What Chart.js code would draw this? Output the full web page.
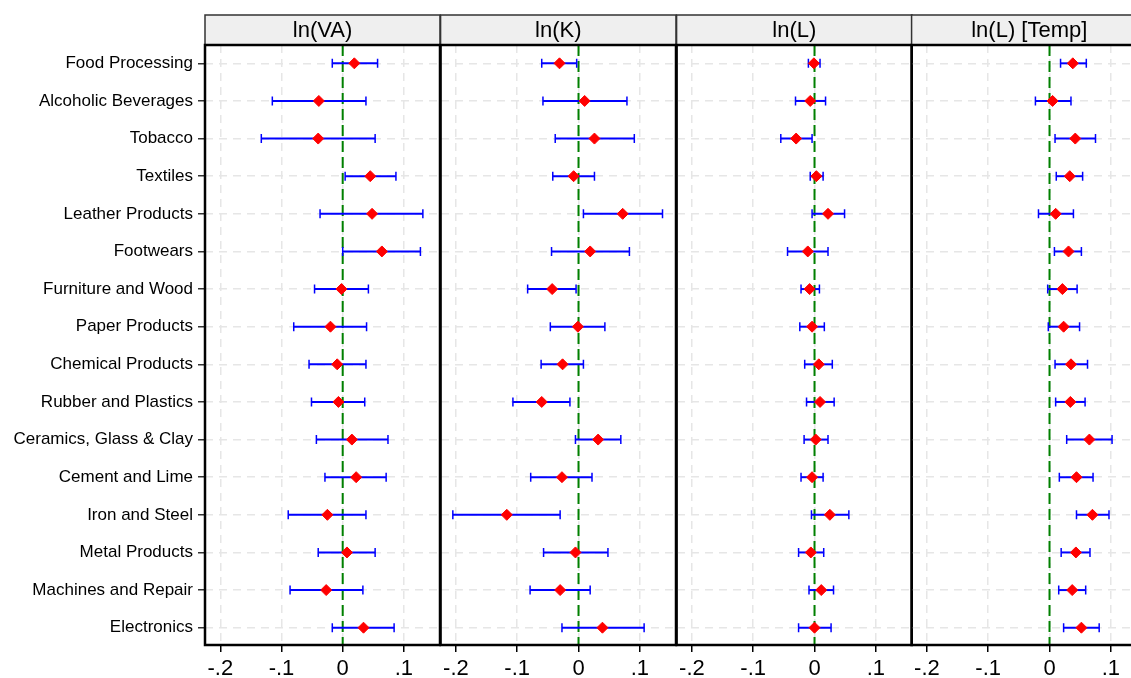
<!DOCTYPE html>
<html>
<head>
<meta charset="utf-8">
<script src="https://cdn.jsdelivr.net/npm/chart.js@4.4.0/dist/chart.umd.min.js"></script>
<style>
  html, body { margin: 0; padding: 0; background: #fff; overflow: hidden; }
  #wrap { position: relative; width: 1131px; height: 678px; overflow: hidden; }
  #wrap canvas { position: absolute; top: 0; }
</style>
</head>
<body>
<div id="wrap">
  <canvas id="panel0" width="441" height="678" style="left:0px"></canvas>
  <canvas id="panel1" width="239" height="678" style="left:439px"></canvas>
  <canvas id="panel2" width="238" height="678" style="left:675px"></canvas>
  <canvas id="panel3" width="238" height="678" style="left:910px"></canvas>
</div>
<script>
const industries = [
  "Food Processing", "Alcoholic Beverages", "Tobacco", "Textiles",
  "Leather Products", "Footwears", "Furniture and Wood", "Paper Products",
  "Chemical Products", "Rubber and Plastics", "Ceramics, Glass & Clay",
  "Cement and Lime", "Iron and Steel", "Metal Products",
  "Machines and Repair", "Electronics"
];

const panelTitles = ["ln(VA)", "ln(K)", "ln(L)", "ln(L) [Temp]"];
const xTicks = [-0.2, -0.1, 0, 0.1];

// point estimates with lower / upper confidence bounds
const vaCoef = [0.019, -0.039, -0.040, 0.045, 0.048, 0.064, -0.002, -0.020, -0.009, -0.007, 0.015, 0.022, -0.025, 0.007, -0.027, 0.034];
const vaLo   = [-0.017, -0.115, -0.133, 0.004, -0.037, 0.000, -0.046, -0.080, -0.055, -0.051, -0.043, -0.029, -0.089, -0.040, -0.086, -0.017];
const vaHi   = [0.057, 0.038, 0.053, 0.087, 0.131, 0.127, 0.042, 0.039, 0.038, 0.036, 0.074, 0.071, 0.038, 0.053, 0.033, 0.084];

const kCoef = [-0.031, 0.010, 0.026, -0.008, 0.072, 0.019, -0.043, -0.001, -0.026, -0.060, 0.032, -0.027, -0.117, -0.005, -0.030, 0.039];
const kLo   = [-0.060, -0.058, -0.038, -0.042, 0.008, -0.044, -0.083, -0.046, -0.061, -0.107, -0.005, -0.078, -0.205, -0.057, -0.079, -0.027];
const kHi   = [-0.003, 0.079, 0.091, 0.026, 0.137, 0.083, -0.004, 0.043, 0.008, -0.014, 0.069, 0.022, -0.030, 0.048, 0.019, 0.107];

const lCoef = [-0.001, -0.007, -0.030, 0.003, 0.022, -0.011, -0.008, -0.004, 0.007, 0.009, 0.002, -0.004, 0.025, -0.006, 0.011, 0.000];
const lLo   = [-0.010, -0.031, -0.055, -0.007, -0.004, -0.044, -0.022, -0.024, -0.016, -0.013, -0.017, -0.022, -0.005, -0.026, -0.009, -0.026];
const lHi   = [0.009, 0.018, -0.004, 0.014, 0.049, 0.022, 0.008, 0.016, 0.029, 0.032, 0.022, 0.014, 0.056, 0.015, 0.031, 0.027];

const tCoef = [0.038, 0.005, 0.042, 0.033, 0.010, 0.031, 0.021, 0.023, 0.035, 0.034, 0.065, 0.044, 0.070, 0.043, 0.037, 0.052];
const tLo   = [0.018, -0.023, 0.009, 0.011, -0.018, 0.008, -0.003, -0.002, 0.009, 0.010, 0.028, 0.016, 0.044, 0.019, 0.015, 0.023];
const tHi   = [0.060, 0.035, 0.075, 0.054, 0.039, 0.052, 0.045, 0.049, 0.062, 0.058, 0.102, 0.071, 0.097, 0.066, 0.059, 0.081];

const panels = [
  { coef: vaCoef, lo: vaLo, hi: vaHi },
  { coef: kCoef, lo: kLo, hi: kHi },
  { coef: lCoef, lo: lLo, hi: lHi },
  { coef: tCoef, lo: tLo, hi: tHi },
];

Chart.defaults.font.family = '"Liberation Sans", Arial, Helvetica, sans-serif';
Chart.defaults.color = "#000";

const FONT = '"Liberation Sans", Arial, Helvetica, sans-serif';

function fmtTick(v) {
  if (v === 0) return "0";
  const s = String(Math.abs(Math.round(v * 10) / 10)).replace(/^0/, "");
  return (v < 0 ? "-" : "") + s;
}

// zero line, confidence bars, strip header and frame
const panelDecor = {
  id: "panelDecor",
  beforeDatasetsDraw(chart, args, opts) {
    const { ctx, chartArea: a, scales: { x, y } } = chart;
    const x0 = x.getPixelForValue(0);
    ctx.save();
    ctx.strokeStyle = "#008000";
    ctx.lineWidth = 2;
    ctx.setLineDash([11, 5]);
    ctx.beginPath();
    ctx.moveTo(x0, a.top);
    ctx.lineTo(x0, a.bottom);
    ctx.stroke();
    ctx.setLineDash([]);

    ctx.strokeStyle = "#0000ff";
    opts.lo.forEach((lo, i) => {
      const yy = y.getPixelForValue(i);
      const x1 = x.getPixelForValue(lo);
      const x2 = x.getPixelForValue(opts.hi[i]);
      ctx.lineWidth = 2;
      ctx.beginPath();
      ctx.moveTo(x1, yy);
      ctx.lineTo(x2, yy);
      ctx.stroke();
      ctx.lineWidth = 1.5;
      ctx.beginPath();
      ctx.moveTo(x1, yy - 4.5);
      ctx.lineTo(x1, yy + 4.5);
      ctx.moveTo(x2, yy - 4.5);
      ctx.lineTo(x2, yy + 4.5);
      ctx.stroke();
    });
    ctx.restore();
  },
  afterDraw(chart, args, opts) {
    const { ctx, chartArea: a } = chart;
    ctx.save();
    ctx.fillStyle = "#efefef";
    ctx.fillRect(a.left, 15, a.right - a.left, a.top - 15);
    ctx.strokeStyle = "#333";
    ctx.lineWidth = 1.5;
    ctx.strokeRect(a.left, 15, a.right - a.left, a.top - 15);
    ctx.fillStyle = "#000";
    ctx.font = "22px " + FONT;
    ctx.textAlign = "center";
    ctx.textBaseline = "middle";
    ctx.fillText(opts.title, (a.left + a.right) / 2, 31);
    ctx.strokeStyle = "#000";
    ctx.lineWidth = 2.5;
    ctx.strokeRect(a.left, a.top, a.right - a.left, a.bottom - a.top);
    ctx.restore();
  }
};

const pads = [
  { left: 0, right: 1, yWidth: 205 },
  { left: 1, right: 2, yWidth: 0 },
  { left: 1, right: 1, yWidth: 0 },
  { left: 1, right: 1, yWidth: 0 },
];

panels.forEach((p, k) => {
  const first = k === 0;
  new Chart(document.getElementById("panel" + k), {
    type: "scatter",
    data: {
      datasets: [{
        data: p.coef.map((c, i) => ({ x: c, y: i })),
        pointStyle: "rectRot",
        pointRadius: 5.5,
        pointHoverRadius: 5.5,
        backgroundColor: "#ff0000",
        borderColor: "#ff0000",
        borderWidth: 1,
      }],
    },
    options: {
      responsive: false,
      animation: false,
      events: [],
      layout: {
        autoPadding: false,
        padding: { top: 45, left: pads[k].left, right: pads[k].right, bottom: 0 },
      },
      plugins: {
        legend: { display: false },
        tooltip: { enabled: false },
        panelDecor: { title: panelTitles[k], lo: p.lo, hi: p.hi },
      },
      scales: {
        x: {
          type: "linear",
          min: -0.225,
          max: 0.159,
          afterBuildTicks: (scale) => { scale.ticks = xTicks.map((v) => ({ value: v })); },
          afterFit: (scale) => { scale.height = 33; },
          ticks: { font: { size: 22 }, padding: 4, callback: fmtTick, maxRotation: 0 },
          grid: { color: "#e6e6e6", lineWidth: 1.5, tickLength: 7, tickColor: "#000", tickWidth: 1.5 },
          border: { display: false, dash: [8, 6] },
        },
        y: {
          type: "linear",
          reverse: true,
          min: -0.487,
          max: 15.46,
          afterBuildTicks: (scale) => { scale.ticks = industries.map((_, i) => ({ value: i })); },
          afterFit: (scale) => { scale.width = pads[k].yWidth; },
          ticks: { display: first, font: { size: 17 }, padding: 5, callback: (v) => industries[v] },
          grid: { color: "#e6e6e6", lineWidth: 1.5, drawTicks: first, tickLength: 7, tickColor: "#333", tickWidth: 1.5 },
          border: { display: false, dash: [8, 6] },
        },
      },
    },
    plugins: [panelDecor],
  });
});
</script>
</body>
</html>
